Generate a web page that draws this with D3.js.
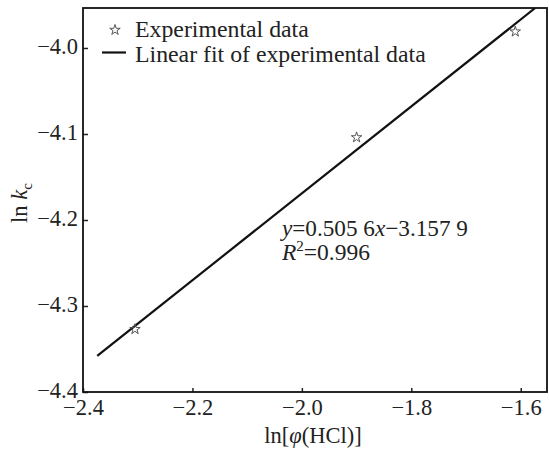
<!DOCTYPE html>
<html>
<head>
<meta charset="utf-8">
<script src="https://cdn.jsdelivr.net/npm/d3@7"></script>
<style>
  body { margin: 0; background: #fff; }
  svg { display: block; font-family: "Liberation Serif", "Times New Roman", serif; }
  .axis text { font-size: 22.5px; fill: #222; font-family: "Liberation Serif", serif; }
  .axis line { stroke: #222; stroke-width: 1.5; }
</style>
</head>
<body>
<div id="chart"></div>
<script>
// experimental points
var lnPhi = [-2.305, -1.900, -1.610];
var lnK = [-4.327, -4.104, -3.981];

// fitted line end points (y = 0.5056x - 3.1579)
var fitX = [-2.374, -1.5736];
var fitY = [-4.358, -3.9535];

var xTicks = [-2.4, -2.2, -2.0, -1.8, -1.6];
var yTicks = [-4.4, -4.3, -4.2, -4.1, -4.0];

var W = 549, H = 455;
var margin = {left: 83, right: 547, top: 8, bottom: 392};

var x = d3.scaleLinear().domain([-2.4, -1.552]).range([margin.left, margin.right]);
var y = d3.scaleLinear().domain([-4.4, -3.9535]).range([margin.bottom, margin.top]);

var svg = d3.select("#chart").append("svg")
  .attr("width", W)
  .attr("height", H);

svg.append("defs").append("clipPath").attr("id", "clip")
  .append("rect")
  .attr("x", margin.left).attr("y", margin.top)
  .attr("width", margin.right - margin.left).attr("height", margin.bottom - margin.top);

// axes, ticks pointing in
var xAxis = d3.axisBottom(x).tickValues(xTicks).tickFormat(d3.format(".1f"))
  .tickSizeInner(-4).tickSizeOuter(0).tickPadding(7);
var yAxis = d3.axisLeft(y).tickValues(yTicks).tickFormat(d3.format(".1f"))
  .tickSizeInner(-5).tickSizeOuter(0).tickPadding(5);

svg.append("g")
  .attr("class", "axis")
  .attr("transform", "translate(0," + margin.bottom + ")")
  .call(xAxis)
  .call(function(g) { g.select(".domain").remove(); });

svg.append("g")
  .attr("class", "axis")
  .attr("transform", "translate(" + margin.left + ",0)")
  .call(yAxis)
  .call(function(g) { g.select(".domain").remove(); })
  .selectAll("text").attr("dy", "0.26em");

// frame
svg.append("rect")
  .attr("x", margin.left).attr("y", margin.top)
  .attr("width", margin.right - margin.left).attr("height", margin.bottom - margin.top)
  .attr("fill", "none")
  .attr("stroke", "#111")
  .attr("stroke-width", 1.8);

// fit line
var line = d3.line()
  .x(function(d) { return x(d[0]); })
  .y(function(d) { return y(d[1]); });

svg.append("path")
  .datum(d3.zip(fitX, fitY))
  .attr("clip-path", "url(#clip)")
  .attr("d", line)
  .attr("fill", "none")
  .attr("stroke", "#111")
  .attr("stroke-width", 2.2);

// experimental points
var star = d3.symbol().type(d3.symbolStar).size(34);
svg.selectAll(".pt")
  .data(d3.zip(lnPhi, lnK))
  .enter()
  .append("path")
  .attr("class", "pt")
  .attr("transform", function(d) { return "translate(" + x(d[0]) + "," + y(d[1]) + ")"; })
  .attr("d", star)
  .attr("fill", "none")
  .attr("stroke", "#555")
  .attr("stroke-width", 1);

// legend
svg.append("path")
  .attr("transform", "translate(115,30)")
  .attr("d", star)
  .attr("fill", "none")
  .attr("stroke", "#555")
  .attr("stroke-width", 1);
svg.append("text")
  .attr("x", 135).attr("y", 37)
  .style("font-size", "23.8px")
  .attr("fill", "#222")
  .text("Experimental data");

svg.append("line")
  .attr("x1", 102).attr("x2", 126)
  .attr("y1", 52.5).attr("y2", 52.5)
  .attr("stroke", "#111")
  .attr("stroke-width", 2.2);
svg.append("text")
  .attr("x", 135).attr("y", 62)
  .style("font-size", "23.8px")
  .attr("fill", "#222")
  .text("Linear fit of experimental data");

// equation
var eq = svg.append("text")
  .attr("x", 282).attr("y", 236)
  .style("font-size", "23.2px")
  .attr("fill", "#222");
eq.append("tspan").style("font-style", "italic").text("y");
eq.append("tspan").text("=0.505 6");
eq.append("tspan").style("font-style", "italic").text("x");
eq.append("tspan").text("\u22123.157 9");

var r2 = svg.append("text")
  .attr("x", 282).attr("y", 260)
  .style("font-size", "23.5px")
  .attr("fill", "#222");
r2.append("tspan").style("font-style", "italic").text("R");
r2.append("tspan").attr("dy", -9).style("font-size", "15px").text("2");
r2.append("tspan").attr("dy", 9).text("=0.996");

// axis titles
var xt = svg.append("text")
  .attr("x", 313).attr("y", 443)
  .attr("text-anchor", "middle")
  .style("font-size", "22.5px")
  .attr("fill", "#222");
xt.append("tspan").text("ln[");
xt.append("tspan").style("font-style", "italic").text("\u03c6");
xt.append("tspan").text("(HCl)]");

var yt = svg.append("text")
  .attr("transform", "translate(27,203) rotate(-90)")
  .attr("text-anchor", "middle")
  .style("font-size", "22.5px")
  .attr("fill", "#222");
yt.append("tspan").text("ln ");
yt.append("tspan").style("font-style", "italic").text("k");
yt.append("tspan").attr("dy", 5).style("font-size", "15px").text("c");
</script>
</body>
</html>
